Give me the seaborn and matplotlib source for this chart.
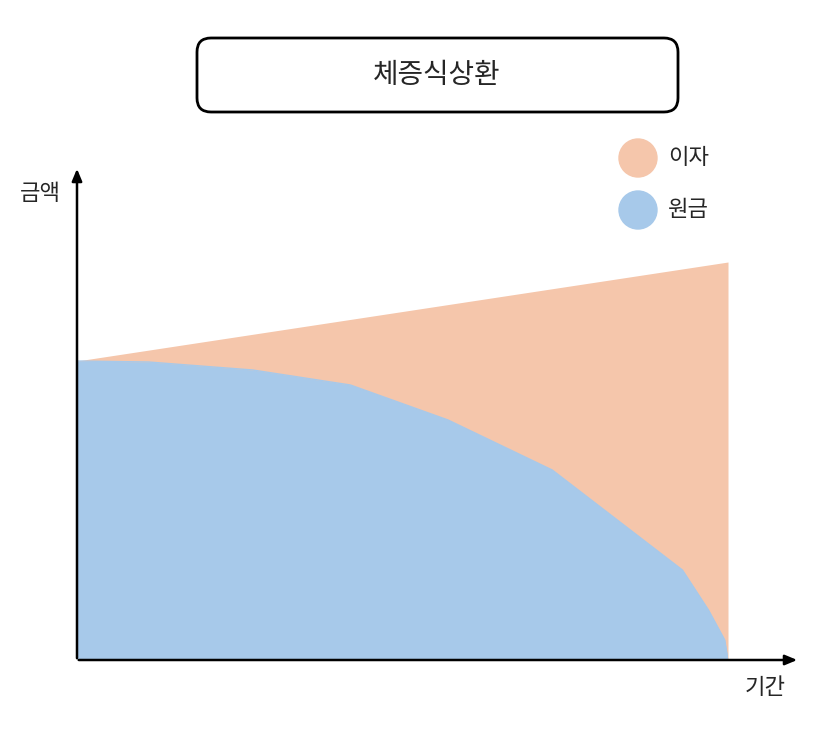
import numpy as np
import pandas as pd
import matplotlib
matplotlib.use("Agg")
import matplotlib.pyplot as plt
from matplotlib.patches import FancyBboxPatch, Circle
import seaborn as sns

# --- data (arbitrary amount units) ---
period_total = [0.0, 1.0]
total_amount = [299, 398]          # principal + interest (linear top edge)
period = [0.0, 0.11, 0.27, 0.42, 0.57, 0.73, 0.83, 0.93, 0.97, 0.995, 1.0]
principal = [299, 298, 290, 275, 240, 190, 140, 90, 50, 20, 0]

ORANGE = "#F5C6AB"
BLUE = "#A7C9EA"

sns.set_theme(style="white")
plt.rcParams["font.family"] = ["Noto Sans CJK KR", "DejaVu Sans"]

W, H = 840, 739
fig = plt.figure(figsize=(W / 100, H / 100), dpi=100)

# main plot area: x 0..1 -> px 77..728, y 0..398 -> px 660..262
ax = fig.add_axes([77 / W, (H - 660) / H, 651 / W, 398 / H])
ax.fill_between(period_total, 0, total_amount, color=ORANGE, lw=0)
ax.fill_between(period, 0, principal, color=BLUE, lw=0)
sns.lineplot(x=period, y=principal, color=BLUE, lw=1, ax=ax)
ax.set_xlim(0, 1)
ax.set_ylim(0, 398)
ax.set_axis_off()

# overlay in pixel coordinates for decorations
ov = fig.add_axes([0, 0, 1, 1], facecolor="none")
ov.set_xlim(0, W)
ov.set_ylim(H, 0)
ov.set_axis_off()

arrow = dict(arrowstyle="-|>,head_length=0.6,head_width=0.25", color="black", lw=1.8)
ov.annotate("", xy=(77, 166), xytext=(77, 661), arrowprops=arrow)
ov.annotate("", xy=(800, 660), xytext=(76, 660), arrowprops=arrow)

ov.add_patch(FancyBboxPatch((197, 38), 481, 74, boxstyle="round,pad=0,rounding_size=14",
                            fc="white", ec="black", lw=2))
ov.text(437, 75, "체증식상환", ha="center", va="center", fontsize=20)

ov.add_patch(Circle((638, 158), 19, color=ORANGE))
ov.add_patch(Circle((638, 210), 19, color=BLUE))
ov.text(668, 158, "이자", ha="left", va="center", fontsize=16)
ov.text(668, 210, "원금", ha="left", va="center", fontsize=16)

ov.text(40, 193, "금액", ha="center", va="center", fontsize=16)
ov.text(765, 688, "기간", ha="center", va="center", fontsize=16)

fig.savefig("out.png", dpi=100)
